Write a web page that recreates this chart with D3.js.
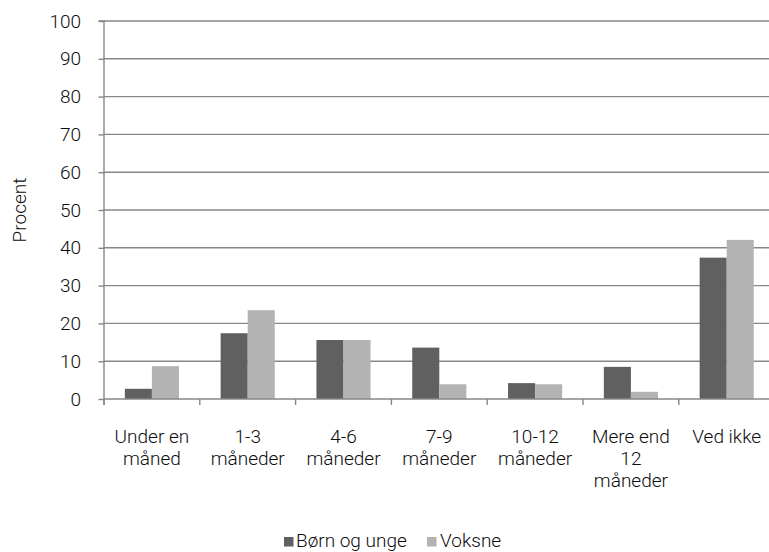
<!DOCTYPE html>
<html><head><meta charset="utf-8">
<script src="https://cdn.jsdelivr.net/npm/d3@7"></script>
<style>body{margin:0;background:#fff;}svg{display:block;}</style>
</head><body>
<script>
const categories = [["Under en","måned"],["1-3","måneder"],["4-6","måneder"],["7-9","måneder"],["10-12","måneder"],["Mere end","12","måneder"],["Ved ikke"]];
const seriesNames = ["Børn og unge","Voksne"];
const bornOgUnge = [2.7, 17.4, 15.6, 13.6, 4.2, 8.5, 37.4];
const voksne = [8.7, 23.5, 15.6, 3.9, 3.9, 1.9, 42.1];
const yTicks = [0,10,20,30,40,50,60,70,80,90,100];
const colors = ["#606060","#b3b3b3"];

const W = 769, H = 552;
const mLeft = 104, mRight = 774.6, mTop = 21, mBottom = 399;
const font = "Roboto, 'Liberation Sans', Arial, sans-serif";
const fw = 300;
const textColor = "#0d0d0d";
const axisColor = "#878787";

const svg = d3.select("body").append("svg").attr("width", W).attr("height", H);
const x = d3.scaleBand().domain(d3.range(categories.length)).range([mLeft, mRight]).paddingInner(0).paddingOuter(0);
const y = d3.scaleLinear().domain([0,100]).range([mBottom, mTop]);
const xs = d3.scaleBand().domain([0,1]).range([0, x.bandwidth()]).paddingInner(0).paddingOuter(0.77);

// gridlines
svg.append("g").selectAll("line").data(yTicks.filter(d=>d>0)).join("line")
  .attr("x1", mLeft).attr("x2", mRight).attr("y1", d=>y(d)).attr("y2", d=>y(d))
  .attr("stroke", axisColor).attr("stroke-width", 1.4);

// bars
const data = [bornOgUnge, voksne];
data.forEach((vals, si) => {
  svg.append("g").selectAll("rect").data(vals).join("rect")
    .attr("x", (d,i)=>x(i)+xs(si)).attr("width", xs.bandwidth())
    .attr("y", d=>y(d)).attr("height", d=>mBottom - y(d))
    .attr("fill", colors[si]);
});

// y axis
const yAxis = d3.axisLeft(y).tickValues(yTicks).tickSize(5.5).tickPadding(18);
const gy = svg.append("g").attr("transform", `translate(${mLeft},0)`).call(yAxis);
gy.select(".domain").attr("stroke", axisColor).attr("stroke-width", 1.4).attr("d", `M-5.5,${mTop}H0V${mBottom + 6}`);
gy.selectAll(".tick line").attr("stroke", axisColor).attr("stroke-width", 1.4);
gy.selectAll(".tick text").attr("font-family", font).attr("font-weight", fw).attr("font-size", 19).attr("fill", textColor).attr("x", -23);

// x axis
const gx = svg.append("g").attr("transform", `translate(0,${mBottom})`);
gx.append("line").attr("x1", mLeft).attr("x2", mRight).attr("y1", 0).attr("y2", 0).attr("stroke", axisColor).attr("stroke-width", 1.4);
gx.selectAll("line.tk").data(d3.range(categories.length + 1)).join("line").attr("class","tk")
  .attr("x1", i=>mLeft + i*x.bandwidth()).attr("x2", i=>mLeft + i*x.bandwidth())
  .attr("y1", 0).attr("y2", 6).attr("stroke", axisColor).attr("stroke-width", 1.4);
const lbl = gx.selectAll("text").data(categories).join("text")
  .attr("font-family", font).attr("font-weight", fw).attr("font-size", 19).attr("fill", textColor).attr("text-anchor", "middle")
  .attr("transform", (d,i)=>`translate(${x(i)+x.bandwidth()/2},44)`);
lbl.selectAll("tspan").data(d=>d).join("tspan").attr("x", 0).attr("y", (d,i)=>i*22).text(d=>d);

// y title
svg.append("text").attr("transform", `translate(25.5,${(mTop+mBottom)/2}) rotate(-90)`)
  .attr("text-anchor", "middle").attr("font-family", font).attr("font-weight", fw).attr("font-size", 19).attr("fill", textColor).text("Procent");

// legend
const legendItems = [{x:284, tx:296},{x:427, tx:440}];
seriesNames.forEach((n, i) => {
  svg.append("rect").attr("x", legendItems[i].x).attr("y", 537).attr("width", 9.5).attr("height", 9.5).attr("fill", colors[i]);
  svg.append("text").attr("x", legendItems[i].tx).attr("y", 547).attr("font-family", font).attr("font-weight", fw).attr("font-size", 19).attr("fill", textColor).text(n);
});
</script>
</body></html>
